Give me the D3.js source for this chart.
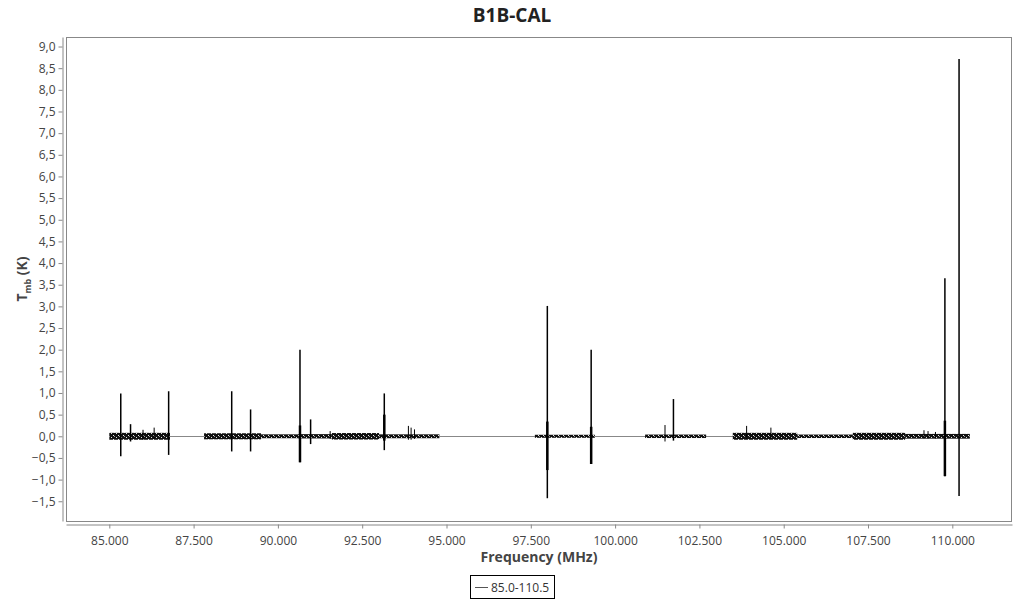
<!DOCTYPE html>
<html>
<head>
<meta charset="utf-8">
<script src="https://cdn.jsdelivr.net/npm/d3@7"></script>
<style>
  body { margin: 0; background: #fff; font-family: "Open Sans", sans-serif; }
</style>
</head>
<body>
<div id="my_chart"></div>
<script>
// noise bands: [start MHz, end MHz, half-width K]
var noiseBands = [
  [85.00, 86.80, 0.08],
  [87.81, 89.50, 0.07],
  [89.50, 90.60, 0.045],
  [90.60, 91.60, 0.05],
  [91.60, 93.00, 0.075],
  [93.00, 94.79, 0.045],
  [97.62, 99.40, 0.035],
  [100.89, 102.70, 0.04],
  [103.49, 105.40, 0.08],
  [105.40, 107.05, 0.04],
  [107.05, 108.60, 0.08],
  [108.60, 110.52, 0.055]
]

// line spikes: [freq MHz, max K, min K, width px]
var spikes = [
  [85.34, 0.99, -0.46, 1.5],
  [85.63, 0.28, -0.12, 1.5],
  [86.00, 0.15, -0.08, 1],
  [86.33, 0.20, -0.06, 1],
  [86.76, 1.04, -0.43, 1.5],
  [88.63, 1.04, -0.35, 1.5],
  [89.19, 0.62, -0.35, 1.5],
  [90.655, 2.00, -0.60, 1.5],
  [90.655, 0.25, -0.60, 2.5],
  [90.97, 0.39, -0.18, 1.5],
  [91.55, 0.12, -0.06, 1],
  [93.155, 0.99, -0.32, 1.5],
  [93.155, 0.50, -0.10, 2.5],
  [93.87, 0.24, -0.08, 1],
  [93.95, 0.20, -0.08, 1],
  [94.05, 0.16, -0.06, 1],
  [97.99, 3.01, -1.43, 1.5],
  [97.99, 0.34, -0.78, 2.5],
  [99.29, 2.00, -0.64, 1.5],
  [99.29, 0.22, -0.64, 2.5],
  [101.48, 0.26, -0.12, 1],
  [101.73, 0.86, -0.10, 1.5],
  [103.90, 0.24, -0.06, 1],
  [104.62, 0.20, -0.06, 1],
  [109.16, 0.14, -0.05, 1],
  [109.28, 0.12, -0.05, 1],
  [109.50, 0.10, -0.05, 1],
  [109.78, 3.65, -0.92, 1.5],
  [109.78, 0.36, -0.92, 2.5],
  [110.20, 8.71, -1.38, 1.5]
]

var baseline = [85.0, 110.52]
var xTicks = [85, 87.5, 90, 92.5, 95, 97.5, 100, 102.5, 105, 107.5, 110]
var yTicks = [-1.5, -1, -0.5, 0, 0.5, 1, 1.5, 2, 2.5, 3, 3.5, 4, 4.5, 5, 5.5, 6, 6.5, 7, 7.5, 8, 8.5, 9]
var seriesName = "85.0-110.5"

var width = 1024, height = 600
var plot = {left: 66, right: 1012, top: 37, bottom: 521}

var svg = d3.select("#my_chart")
  .append("svg")
    .attr("width", width)
    .attr("height", height)

// speckled fill so the noise bands don't look like solid bars
var pat = svg.append("defs").append("pattern")
  .attr("id", "speckle")
  .attr("patternUnits", "userSpaceOnUse")
  .attr("width", 5).attr("height", 4)
pat.append("rect").attr("width", 5).attr("height", 4).attr("fill", "#111")
pat.append("rect").attr("x", 1).attr("y", 1).attr("width", 1).attr("height", 1).attr("fill", "#ddd")
pat.append("rect").attr("x", 3).attr("y", 3).attr("width", 1).attr("height", 1).attr("fill", "#eee")
pat.append("rect").attr("x", 4).attr("y", 0).attr("width", 1).attr("height", 1).attr("fill", "#999")

var x = d3.scaleLinear()
    .domain([83.716, 111.77])
    .range([plot.left, plot.right])
var y = d3.scaleLinear()
    .domain([-1.956, 9.22])
    .range([plot.bottom, plot.top])

var decimal = d3.formatLocale({decimal: ",", thousands: ".", grouping: [3], currency: ["", ""]})
var fmtY = decimal.format(".1f")
var fmtX = function(d) { return d3.format(".3f")(d) }

// plot frame
svg.append("rect")
  .attr("x", plot.left + 0.5).attr("y", plot.top + 0.5)
  .attr("width", plot.right - plot.left - 1).attr("height", plot.bottom - plot.top)
  .attr("fill", "none").attr("stroke", "#888")

// y axis
var yAxis = svg.append("g")
  .attr("transform", "translate(62.5,0)")
  .call(d3.axisLeft(y).tickValues(yTicks).tickFormat(fmtY).tickSize(4).tickSizeOuter(0))
yAxis.select(".domain").attr("stroke", "#888")
yAxis.selectAll(".tick line").attr("stroke", "#888")
yAxis.selectAll("text")
  .style("font-family", "Open Sans").style("font-size", "12px").attr("fill", "#444")

// x axis
var xAxis = svg.append("g")
  .attr("transform", "translate(0,524.5)")
  .call(d3.axisBottom(x).tickValues(xTicks).tickFormat(fmtX).tickSize(4).tickSizeOuter(0))
xAxis.select(".domain").attr("stroke", "#888")
xAxis.selectAll(".tick line").attr("stroke", "#888")
xAxis.selectAll("text")
  .attr("dy", "1.1em")
  .style("font-family", "Open Sans").style("font-size", "12px").attr("fill", "#444")

// zero baseline of the spectrum
svg.append("line")
  .attr("x1", x(baseline[0])).attr("x2", x(baseline[1]))
  .attr("y1", Math.round(y(0)) + 0.5).attr("y2", Math.round(y(0)) + 0.5)
  .attr("stroke", "#888").attr("stroke-width", 1)

// noise bands
svg.selectAll(".noise")
  .data(noiseBands)
  .enter()
  .append("rect")
  .attr("class", "noise")
  .attr("x", function(d) { return x(d[0]) })
  .attr("width", function(d) { return x(d[1]) - x(d[0]) })
  .attr("y", function(d) { return y(d[2]) })
  .attr("height", function(d) { return y(-d[2]) - y(d[2]) })
  .attr("fill", "url(#speckle)")

// spikes
svg.selectAll(".spike")
  .data(spikes)
  .enter()
  .append("line")
  .attr("class", "spike")
  .attr("x1", function(d) { return x(d[0]) })
  .attr("x2", function(d) { return x(d[0]) })
  .attr("y1", function(d) { return y(d[1]) })
  .attr("y2", function(d) { return y(d[2]) })
  .attr("stroke", "#000")
  .attr("stroke-width", function(d) { return d[3] })

// title and axis labels
svg.append("text")
  .attr("x", 512).attr("y", 22)
  .attr("text-anchor", "middle")
  .style("font-family", "Open Sans").style("font-size", "19px").style("font-weight", "bold")
  .attr("fill", "#222")
  .text("B1B-CAL")

svg.append("text")
  .attr("x", (plot.left + plot.right) / 2).attr("y", 562)
  .attr("text-anchor", "middle")
  .style("font-family", "Open Sans").style("font-size", "14px").style("font-weight", "bold")
  .attr("fill", "#444")
  .text("Frequency (MHz)")

var yLabel = svg.append("text")
  .attr("transform", "translate(27,279) rotate(-90)")
  .attr("text-anchor", "middle")
  .style("font-family", "Open Sans").style("font-size", "14px").style("font-weight", "bold")
  .attr("fill", "#444")
yLabel.append("tspan").text("T")
yLabel.append("tspan").attr("dy", 4).style("font-size", "9px").text("mb")
yLabel.append("tspan").attr("dy", -4).text(" (K)")

// legend
svg.append("rect")
  .attr("x", 470.5).attr("y", 575.5).attr("width", 84).attr("height", 23)
  .attr("fill", "#fff").attr("stroke", "#000")
svg.append("line")
  .attr("x1", 475).attr("x2", 488).attr("y1", 587.5).attr("y2", 587.5)
  .attr("stroke", "#555")
svg.append("text")
  .attr("x", 491).attr("y", 591.5)
  .style("font-family", "Open Sans").style("font-size", "12px")
  .attr("fill", "#333")
  .text(seriesName)
</script>
</body>
</html>
